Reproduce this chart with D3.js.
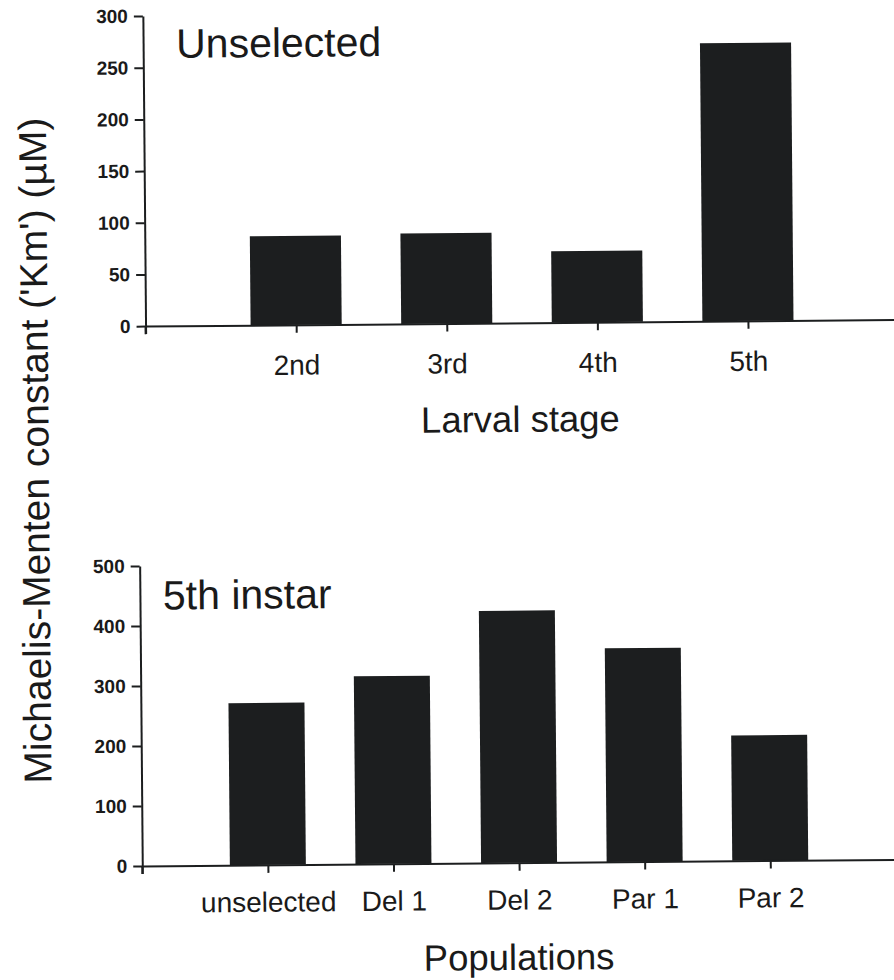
<!DOCTYPE html>
<html lang="en">
<head>
<meta charset="UTF-8">
<title>Michaelis-Menten constant</title>
<script src="https://cdn.jsdelivr.net/npm/d3@7"></script>
<style>
  body { margin: 0; background: #fff; }
  text { font-family: "Liberation Sans", Arial, sans-serif; fill: #1a1a1a; }
</style>
</head>
<body>
<script>
// top panel: unselected line, by larval stage
var stages = ["2nd", "3rd", "4th", "5th"];
var stageKm = [86, 87.5, 69, 269];
var stageTicks = [0, 50, 100, 150, 200, 250, 300];

// bottom panel: 5th instar, by population
var pops = ["unselected", "Del 1", "Del 2", "Par 1", "Par 2"];
var popKm = [270, 313, 420, 356, 209];
var popTicks = [0, 100, 200, 300, 400, 500];

var W = 894, H = 980;
var ink = "#1c1e1f";

var svg = d3.select("body").append("svg")
    .attr("width", W)
    .attr("height", H);

// the scan is turned a little, so everything sits in one slightly rotated group
var page = svg.append("g").attr("transform", "rotate(-0.5, 447, 490)");

function panel(cats, vals, ticks, opt) {
    var g = page.append("g");
    var n = cats.length;
    var x = d3.scaleLinear().domain([0, n + 1]).range([opt.x0, opt.x1]);
    var y = d3.scaleLinear().domain([0, ticks[ticks.length - 1]]).range([opt.y0, opt.y1]);
    var bw = (x(1) - x(0)) * 0.605;

    g.selectAll("rect.bar")
        .data(vals)
        .enter()
        .append("rect")
        .attr("class", "bar")
        .attr("x", function(d, i) { return x(i + 1) - bw / 2; })
        .attr("width", bw)
        .attr("y", function(d) { return y(d); })
        .attr("height", function(d) { return y(0) - y(d); })
        .attr("fill", ink);

    var xa = g.append("g")
        .attr("transform", "translate(0," + y(0) + ")")
        .call(d3.axisBottom(x)
            .tickValues(d3.range(0, n + 1))
            .tickSize(8)
            .tickSizeOuter(0)
            .tickPadding(opt.xPad)
            .tickFormat(function(i) { return i === 0 ? "" : cats[i - 1]; }));
    xa.selectAll("text").attr("font-size", 28).attr("fill", "#1a1a1a")
        .attr("font-family", "Liberation Sans, Arial, sans-serif");

    var ya = g.append("g")
        .attr("transform", "translate(" + x(0) + ",0)")
        .call(d3.axisLeft(y)
            .tickValues(ticks)
            .tickSize(9)
            .tickSizeOuter(0)
            .tickPadding(6));
    ya.selectAll("text").attr("font-size", 19).attr("font-weight", "bold")
        .attr("fill", "#1a1a1a")
        .attr("font-family", "Liberation Sans, Arial, sans-serif");

    // y axis runs a little below the base line
    g.append("line")
        .attr("x1", x(0)).attr("x2", x(0))
        .attr("y1", y(0)).attr("y2", y(0) + 8)
        .attr("stroke", ink).attr("stroke-width", 2);

    g.selectAll(".domain, .tick line").attr("stroke", ink).attr("stroke-width", 2);

    g.append("text")
        .attr("x", opt.titleX)
        .attr("y", opt.titleY)
        .attr("font-size", 41)
        .text(opt.title);

    g.append("text")
        .attr("x", opt.labX)
        .attr("y", opt.labY)
        .attr("text-anchor", "middle")
        .attr("font-size", 36.5)
        .text(opt.xLabel);
}

panel(stages, stageKm, stageTicks, {
    x0: 147, x1: 900, y0: 323.5, y1: 13.4, xPad: 22,
    title: "Unselected", titleX: 180, titleY: 55.5,
    xLabel: "Larval stage", labX: 521, labY: 432.5
});

panel(pops, popKm, popTicks, {
    x0: 139, x1: 892.6, y0: 863.3, y1: 563.3, xPad: 19,
    title: "5th instar", titleX: 162, titleY: 607,
    xLabel: "Populations", labX: 515, labY: 970.5
});

page.append("text")
    .attr("transform", "translate(49,447) rotate(-90)")
    .attr("text-anchor", "middle")
    .attr("font-size", 39)
    .text("Michaelis-Menten constant ('Km') (\u00b5M)");
</script>
</body>
</html>
